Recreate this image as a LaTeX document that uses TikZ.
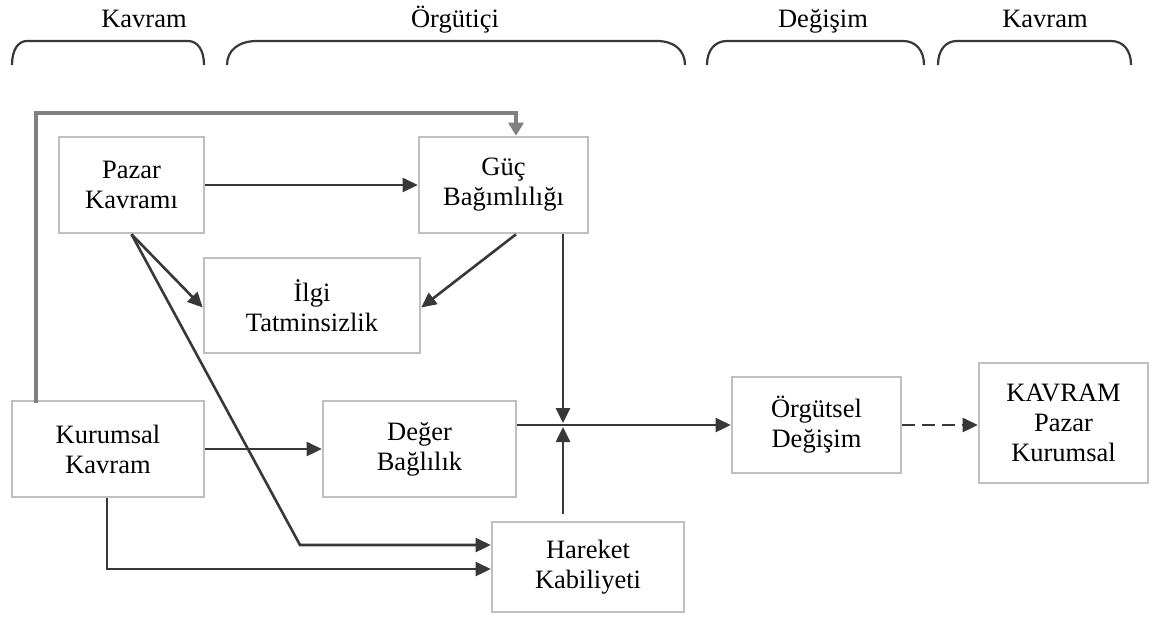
\documentclass[tikz,border=0pt]{standalone}
\usepackage{fontspec}
\setmainfont{Liberation Serif}
\usetikzlibrary{arrows.meta}
\definecolor{boxline}{HTML}{C0C0C0}
\definecolor{ink}{HTML}{383838}
\definecolor{loopgray}{HTML}{808080}
% open bracket under a column heading: left x, right x, left and right corner sizes
\newcommand{\bracketcap}[4]{%
  \draw[bracket] (#1,65) .. controls (#1,50) and ({#1+0.4*#3},41) .. ({#1+#3},41)
    -- ({#2-#4},41) .. controls ({#2-0.4*#4},41) and (#2,50) .. (#2,65);}
\begin{document}
\begin{tikzpicture}[x=1pt,y=-1pt,
  every node/.style={font=\fontsize{26.5}{30}\selectfont, inner sep=0pt},
  box/.style={draw=boxline, line width=2.6pt, align=center, fill=white},
  arr/.style={draw=ink, line width=2.6pt, -{Triangle[length=15pt,width=14pt]}},
  dasharr/.style={arr, dash pattern=on 13pt off 7pt},
  looparr/.style={draw=loopgray, line width=3.2pt, -{Triangle[length=13pt,width=15pt]}},
  bracket/.style={draw=ink, line width=2.2pt},
  lbl/.style={anchor=base}]
\useasboundingbox (0,0) rectangle (1165,616);

% column headings and their brackets
\node[lbl] (hKavram1) at (144,27) {Kavram};
\node[lbl] (hOrgut) at (455,27) {Örgütiçi};
\node[lbl] (hDegisim) at (823,27) {Değişim};
\node[lbl] (hKavram2) at (1045,27) {Kavram};
\bracketcap{12}{204}{15}{16}
\bracketcap{227}{685}{30}{28}
\bracketcap{707}{924}{20}{21}
\bracketcap{938}{1131}{19}{20}

% boxes
\node[box, minimum width=145pt, minimum height=96pt] (pazar) at (131.5,185) {Pazar\\Kavramı};
\node[box, minimum width=169pt, minimum height=96pt] (guc) at (503.5,185) {Güç\\Bağımlılığı};
\node[box, minimum width=216pt, minimum height=95pt] (ilgi) at (312,305.5) {İlgi\\Tatminsizlik};
\node[box, minimum width=192pt, minimum height=96pt] (kurumsal) at (108,449) {Kurumsal\\Kavram};
\node[box, minimum width=193pt, minimum height=96pt] (deger) at (419.5,449) {Değer\\Bağlılık};
\node[box, minimum width=192pt, minimum height=90pt] (hareket) at (588,567) {Hareket\\Kabiliyeti};
\node[box, minimum width=169pt, minimum height=96pt] (orgutsel) at (816.5,425) {Örgütsel\\Değişim};
\node[box, minimum width=169pt, minimum height=120pt] (sonuc) at (1063.5,423) {KAVRAM\\Pazar\\Kurumsal};

% routing points
\coordinate (junc) at (563,425);
\coordinate (fbtop) at (36,113);
\coordinate (bendP) at (300,545);
\coordinate (bendK) at (107,569);

% feedback loop from Kurumsal Kavram to Güç Bağımlılığı
\draw[looparr] ([yshift=-3pt]fbtop |- kurumsal.north) -- (fbtop) -| ([xshift=12.5pt]guc.north);

% connectors
\draw[arr] (pazar.east) -- (guc.west);
\draw[arr] (pazar.south) -- ([yshift=-2pt]ilgi.west);
\draw[arr] (pazar.south) -- (bendP) -- (bendP -| hareket.west);
\draw[arr] ([xshift=12.5pt]guc.south) -- ([yshift=-2pt]ilgi.east);
\draw[arr, shorten >=2pt] (junc |- guc.south) -- (junc);
\draw[arr, shorten >=2pt, shorten <=7pt] (junc |- hareket.north) -- (junc);
\draw[arr] (deger.east |- junc) -- (orgutsel.west);
\draw[dasharr] (orgutsel.east) -- (orgutsel.east -| sonuc.west);
\draw[arr] (kurumsal.east) -- (deger.west);
\draw[arr] (kurumsal.south -| bendK) -- (bendK) -- (bendK -| hareket.west);
\end{tikzpicture}
\end{document}
